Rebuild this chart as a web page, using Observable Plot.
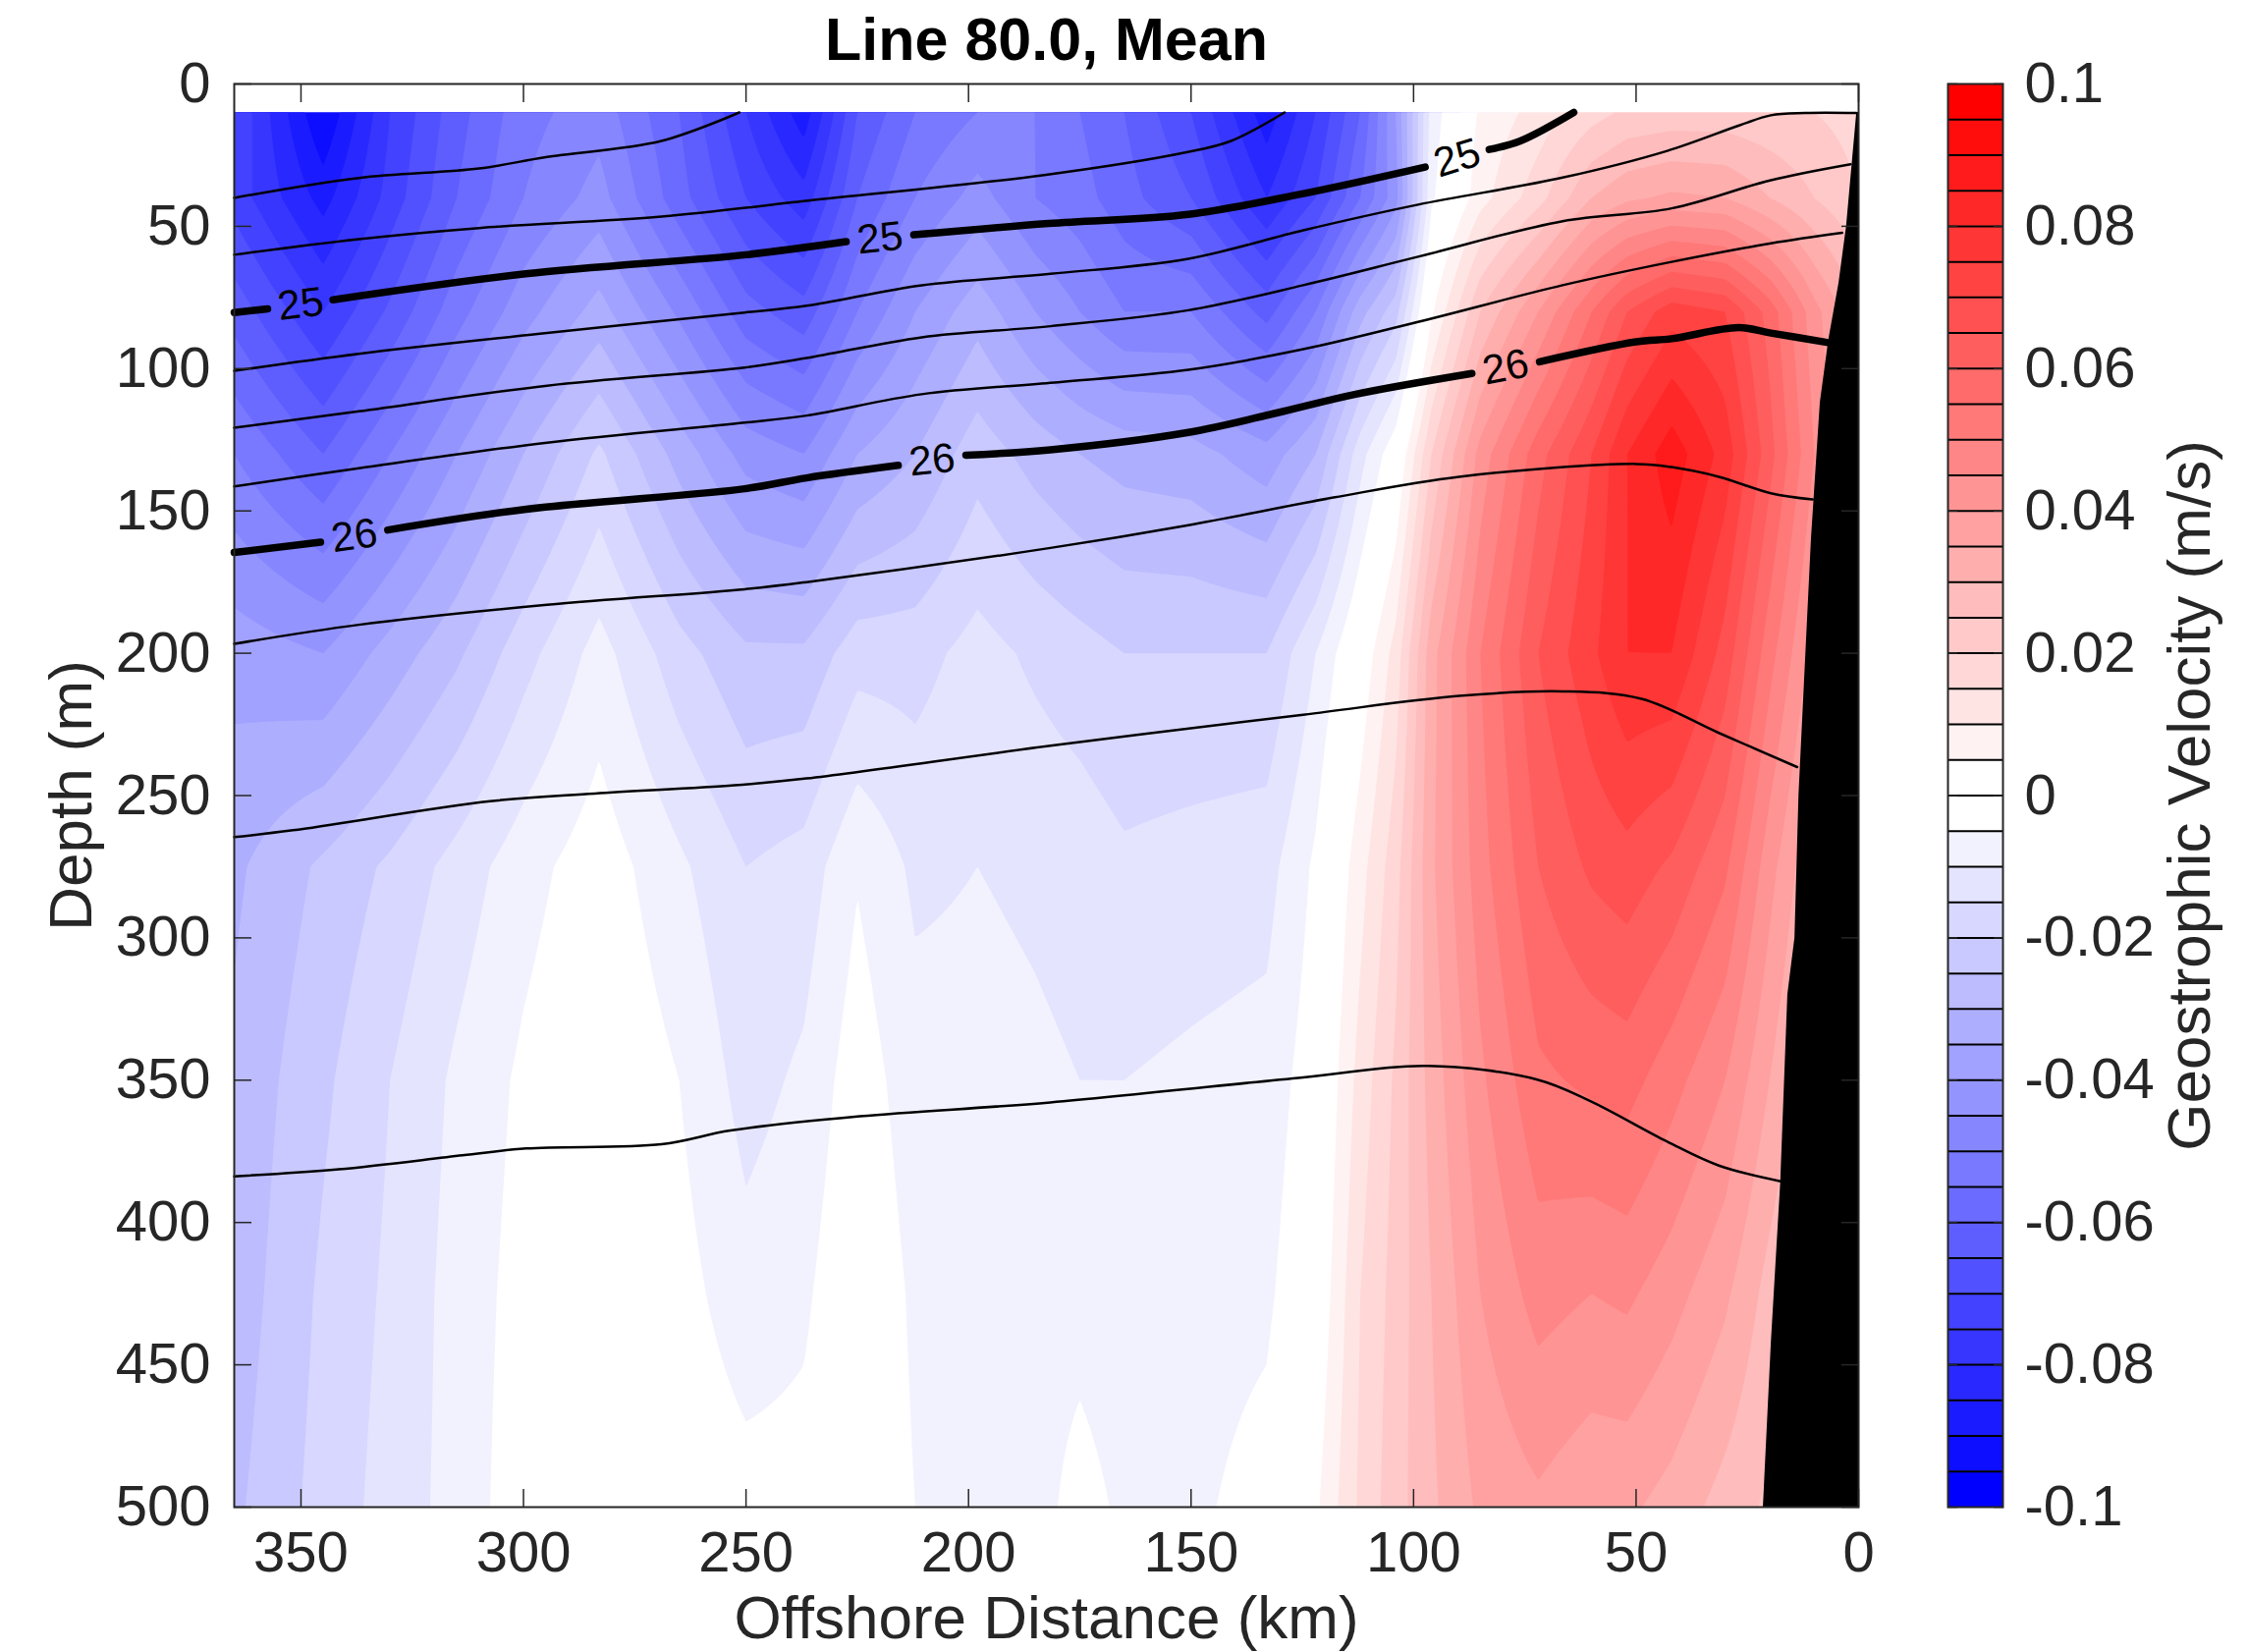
<!DOCTYPE html>
<html><head><meta charset="utf-8">
<script src="https://cdn.jsdelivr.net/npm/d3@7"></script>
<script src="https://cdn.jsdelivr.net/npm/@observablehq/plot@0.6"></script>
<style>
html,body{margin:0;padding:0;background:#fff;}
#wrap{position:relative;width:2289px;height:1682px;overflow:hidden;background:#fff;}
#main{position:absolute;left:0;top:0;width:1900px;height:1682px;}
#cbar{position:absolute;left:1900px;top:0;width:389px;height:1682px;}
</style></head>
<body><div id="wrap"><div id="main"></div><div id="cbar"></div></div>
<script>
// ---------- data ----------
const distanceKm = [365, 345, 330, 315, 300, 283, 265, 250, 237, 225, 212, 198, 185, 175, 165, 150, 133, 122, 112, 104, 96, 85, 72, 60, 52, 42, 30, 20, 10, 0];
const depthM = [10, 40, 80, 130, 200, 275, 350, 425, 500];
const vel10  = [-0.070,-0.095,-0.075,-0.062,-0.052,-0.047,-0.060,-0.075,-0.088,-0.065,-0.055,-0.050,-0.050,-0.055,-0.060,-0.070,-0.088,-0.075,-0.060,-0.040,-0.008,0.006,0.012,0.018,0.021,0.022,0.022,0.021,0.020,0.018];
const vel40  = [-0.072,-0.087,-0.073,-0.060,-0.050,-0.043,-0.058,-0.070,-0.078,-0.060,-0.050,-0.043,-0.050,-0.053,-0.058,-0.065,-0.080,-0.070,-0.055,-0.042,-0.006,0.008,0.018,0.030,0.034,0.036,0.035,0.030,0.025,0.020];
const vel80  = [-0.062,-0.075,-0.064,-0.052,-0.042,-0.033,-0.046,-0.058,-0.063,-0.050,-0.040,-0.032,-0.040,-0.045,-0.050,-0.050,-0.062,-0.050,-0.032,-0.022,0.004,0.025,0.040,0.055,0.065,0.073,0.070,0.058,0.042,0.030];
const vel130 = [-0.050,-0.060,-0.050,-0.040,-0.030,-0.019,-0.032,-0.042,-0.045,-0.035,-0.030,-0.022,-0.027,-0.030,-0.032,-0.033,-0.038,-0.030,-0.012,-0.001,0.020,0.042,0.058,0.070,0.080,0.088,0.078,0.062,0.045,0.032];
const vel200 = [-0.037,-0.040,-0.033,-0.026,-0.017,-0.008,-0.018,-0.024,-0.024,-0.017,-0.017,-0.013,-0.016,-0.018,-0.020,-0.020,-0.020,-0.010,0.001,0.012,0.033,0.050,0.065,0.074,0.080,0.080,0.068,0.052,0.038,0.028];
const vel275 = [-0.031,-0.024,-0.019,-0.013,-0.007,-0.002,-0.009,-0.015,-0.013,-0.0055,-0.011,-0.010,-0.011,-0.012,-0.014,-0.013,-0.012,-0.004,0.008,0.018,0.034,0.048,0.060,0.066,0.068,0.064,0.056,0.042,0.030,0.024];
const vel350 = [-0.029,-0.021,-0.015,-0.009,-0.004,0.000,-0.005,-0.012,-0.009,-0.002,-0.008,-0.008,-0.009,-0.010,-0.010,-0.009,-0.008,-0.002,0.012,0.021,0.032,0.044,0.054,0.056,0.057,0.052,0.045,0.035,0.025,0.020];
const vel425 = [-0.028,-0.019,-0.014,-0.008,-0.003,0.001,-0.003,-0.008,-0.006,0.000,-0.006,-0.007,-0.007,-0.007,-0.008,-0.007,-0.006,0.000,0.015,0.022,0.030,0.040,0.047,0.045,0.046,0.042,0.036,0.028,0.022,0.018];
const vel500 = [-0.026,-0.018,-0.013,-0.008,-0.002,0.001,-0.001,-0.003,-0.003,0.000,-0.005,-0.007,-0.007,-0.003,-0.006,-0.006,-0.003,0.004,0.016,0.023,0.029,0.036,0.039,0.036,0.036,0.033,0.028,0.024,0.020,0.016];
const velocityRows = [vel10, vel40, vel80, vel130, vel200, vel275, vel350, vel425, vel500];

// isopycnals: [offshore distance km, depth m]; null = gap for label
const iso245  = [[365,40],[337,33],[310,29.7],[295,25.7],[269,20],[251.5,10]];
const iso2475 = [[365,60],[337,54.5],[310,50.6],[269,46.6],[236,41],[183,32],[151,24],[141,20],[129,10]];
const iso25   = [[365,80.3],[357.5,79],null,[342.8,75.8],[299.5,66.7],[250,60],[227.5,55.4],null,[212.3,53],[182,49],[150.6,45.8],[125,38.6],[97.4,29.2],null,[83,23],[76,20],[64,10]];
const iso2525 = [[365,100.8],[337,94.8],[294.7,87.5],[250.3,80.3],[236.4,77.9],[210.5,70.7],[181.6,66.7],[150.6,61.4],[124.8,51.4],[99,42.4],[66.5,32.9],[43,23.5],[26.7,14.5],[19.7,11],[12,10.2],[0.5,10.2]];
const iso255  = [[365,120.8],[337,115],[294.7,106],[250.3,99.6],[236.4,96.3],[210.5,89],[181.6,85.1],[150.6,79.5],[124.8,70.7],[99,60.7],[66.5,48.2],[42,43.7],[19.7,33.8],[1.8,28.2]];
const iso2575 = [[365,141.4],[337,135],[294.7,126],[250.3,119],[236.4,116.5],[210.5,109],[181.6,105],[150.6,100.4],[124.8,93.2],[99,83.6],[66.5,70.7],[42,62.5],[19.7,56],[3.7,52.3]];
const iso26   = [[365,164.6],[345.6,161],null,[330.5,156.7],[299.4,149.4],[250.3,142.2],[236.4,138.4],[215.8,134],null,[200.6,130.4],[181.6,128.5],[150.6,122.4],[130.8,115.6],[113,109],[86.9,101.7],null,[71.7,97.6],[50,90.6],[42,89.5],[27,85.6],[19.7,87.5],[7.1,90.8]];
const iso2625 = [[365,196.7],[337,190],[294.7,183],[250.3,177.5],[236.4,175],[181.6,163],[150.6,155],[118,145.3],[89.8,138],[50,133.5],[42,134.6],[31.4,138],[19.7,143.8],[10.3,146]];
const iso265  = [[365,264.6],[351.8,262.2],[307.5,252],[284,249.3],[252.6,246.4],[236.4,244],[181.6,232.5],[124.8,221.6],[89.8,215],[66.5,213.4],[48.8,216],[31.4,228],[13.8,240]];
const iso2675 = [[365,383.8],[341.5,381.3],[313.7,376.4],[299.4,374],[269,372.5],[253.5,367.7],[224.4,362.7],[181.6,357.8],[124.8,349],[96.8,345],[72.2,349.8],[60.5,357.2],[43,371.6],[31.4,380],[17.3,385.6]];
const thinIsopycnals = [iso245, iso2475, iso2525, iso255, iso2575, iso2625, iso265, iso2675];
const thickIsopycnals = [iso25, iso26];

const labelText = ["25", "25", "25", "26", "26", "26"];
const labelDist = [350.1, 219.9, 90.2, 338, 208.2, 79.3];
const labelDepth = [77.4, 54.2, 26.1, 158.8, 132.2, 99.6];
const labelAngle = [-7, -6, -17, -8, -6, -11];

// shelf / bottom
const bathyDepth = [10, 50, 70, 90, 112, 160, 250, 300, 320, 386, 442, 500];
const bathyDist  = [0.4, 2.7, 4.4, 6.7, 8.6, 10.6, 13.4, 14.3, 15.9, 17.5, 19.6, 21.4];

const xTicks = [350, 300, 250, 200, 150, 100, 50, 0];
const yTicks = [0, 50, 100, 150, 200, 250, 300, 350, 400, 450, 500];
const cbarTicks = [-0.1, -0.08, -0.06, -0.04, -0.02, 0, 0.02, 0.04, 0.06, 0.08, 0.1];

// ---------- helpers ----------
function locate(nodes, v) {
  for (let i = 0; i < nodes.length - 1; i++) {
    const a = nodes[i], b = nodes[i + 1];
    if ((v - a) * (v - b) <= 0) return [i, a === b ? 0 : (v - a) / (b - a)];
  }
  const first = Math.abs(v - nodes[0]) < Math.abs(v - nodes[nodes.length - 1]);
  return first ? [0, 0] : [nodes.length - 2, 1];
}
function velocityAt(x, y) {
  const [i, tx] = locate(distanceKm, x);
  const [j, ty] = locate(depthM, y);
  const r0 = velocityRows[j], r1 = velocityRows[j + 1];
  const a = r0[i] + (r0[i + 1] - r0[i]) * tx;
  const b = r1[i] + (r1[i + 1] - r1[i]) * tx;
  return a + (b - a) * ty;
}

const step = 0.005;
const levels = d3.range(40).map(k => +(-0.1 + k * step).toFixed(4));
const bandBounds = d3.range(1, 40).map(k => -0.1 + k * step - step / 2);
const bandColors = d3.range(40).map(k => {
  if (k < 20) { const c = Math.round(255 * k / 19); return `rgb(${c},${c},255)`; }
  const c = Math.round(255 * (1 - (k - 20) / 19)); return `rgb(255,${c},${c})`;
});
const colorScale = {type: "threshold", domain: bandBounds, range: bandColors};
const FONT = '"Liberation Sans", Arial, Helvetica, sans-serif';
const AX = "#262626";

const bathy = bathyDepth.map((d, i) => ({depth: d, dist: bathyDist[i]}));
const labels = labelText.map((t, i) => ({t, x: labelDist[i], y: labelDepth[i], a: labelAngle[i]}));
const px = d => d ? d[0] : NaN, py = d => d ? d[1] : NaN;

const main = Plot.plot({
  width: 1900, height: 1682,
  marginLeft: 238, marginRight: 8, marginTop: 85, marginBottom: 148,
  x: {domain: [365, 0], label: null},
  y: {domain: [0, 500], reverse: true, label: null},
  color: colorScale,
  style: {fontFamily: FONT, fontSize: "58px", color: AX, background: "transparent", overflow: "visible"},
  marks: [
    Plot.contour({fill: velocityAt, x1: 365, x2: 0, y1: 10, y2: 500, thresholds: levels, stroke: "none", pixelSize: 2}),
    Plot.areaX(bathy, {y: "depth", x1: 0, x2: "dist", fill: "black"}),
    ...thinIsopycnals.map(pts => Plot.line(pts, {x: px, y: py, stroke: "black", strokeWidth: 2.5, curve: "catmull-rom"})),
    ...thickIsopycnals.map(pts => Plot.line(pts, {x: px, y: py, stroke: "black", strokeWidth: 7.5, curve: "catmull-rom"})),
    Plot.text(labels, {x: "x", y: "y", text: "t", rotate: "a", fontSize: 42, fill: "black", lineAnchor: "middle", textAnchor: "middle"}),
    Plot.frame({stroke: AX, strokeWidth: 2}),
    Plot.axisX({anchor: "bottom", ticks: xTicks, tickSize: -18, tickPadding: 42, tickFormat: d => String(d), color: AX, strokeWidth: 1.5, label: null}),
    Plot.axisX({anchor: "top", ticks: xTicks, tickSize: -18, tickFormat: () => "", color: AX, strokeWidth: 1.5, label: null}),
    Plot.axisY({anchor: "left", ticks: yTicks, tickSize: -18, tickPadding: 42, tickFormat: d => String(d), color: AX, strokeWidth: 1.5, label: null}),
    Plot.axisY({anchor: "right", ticks: yTicks, tickSize: -18, tickFormat: () => "", color: AX, strokeWidth: 1.5, label: null}),
    Plot.text(["Line 80.0, Mean"], {frameAnchor: "top", dy: -44, lineAnchor: "middle", textAnchor: "middle", fontSize: 61, fontWeight: "bold", fill: "black"}),
    Plot.text(["Offshore Distance (km)"], {frameAnchor: "bottom", dy: 114, lineAnchor: "middle", textAnchor: "middle", fontSize: 62, fill: AX}),
    Plot.text(["Depth (m)"], {frameAnchor: "left", dx: -165, rotate: -90, lineAnchor: "middle", textAnchor: "middle", fontSize: 62, fill: AX})
  ]
});
document.getElementById("main").appendChild(main);

const bands = levels.map(lo => ({lo, hi: lo + step}));
const cbar = Plot.plot({
  width: 389, height: 1682,
  marginLeft: 83, marginRight: 250, marginTop: 85, marginBottom: 148,
  x: {domain: [0, 1], axis: null},
  y: {domain: [-0.1, 0.1], label: null},
  color: colorScale,
  style: {fontFamily: FONT, fontSize: "58px", color: AX, background: "transparent", overflow: "visible"},
  marks: [
    Plot.rect(bands, {x1: 0, x2: 1, y1: "lo", y2: "hi", fill: "lo"}),
    Plot.ruleY(levels.slice(1), {stroke: "black", strokeWidth: 2}),
    Plot.frame({stroke: AX, strokeWidth: 2}),
    Plot.axisY({anchor: "right", ticks: cbarTicks, tickSize: -10, tickPadding: 32, tickFormat: d => String(d), color: AX, strokeWidth: 1.5, label: null}),
    Plot.axisY({anchor: "left", ticks: cbarTicks, tickSize: -10, tickFormat: () => "", color: AX, strokeWidth: 1.5, label: null}),
    Plot.text(["Geostrophic Velocity (m/s)"], {frameAnchor: "right", dx: 191, rotate: -90, lineAnchor: "middle", textAnchor: "middle", fontSize: 62, fill: AX})
  ]
});
document.getElementById("cbar").appendChild(cbar);
</script>
</body></html>
